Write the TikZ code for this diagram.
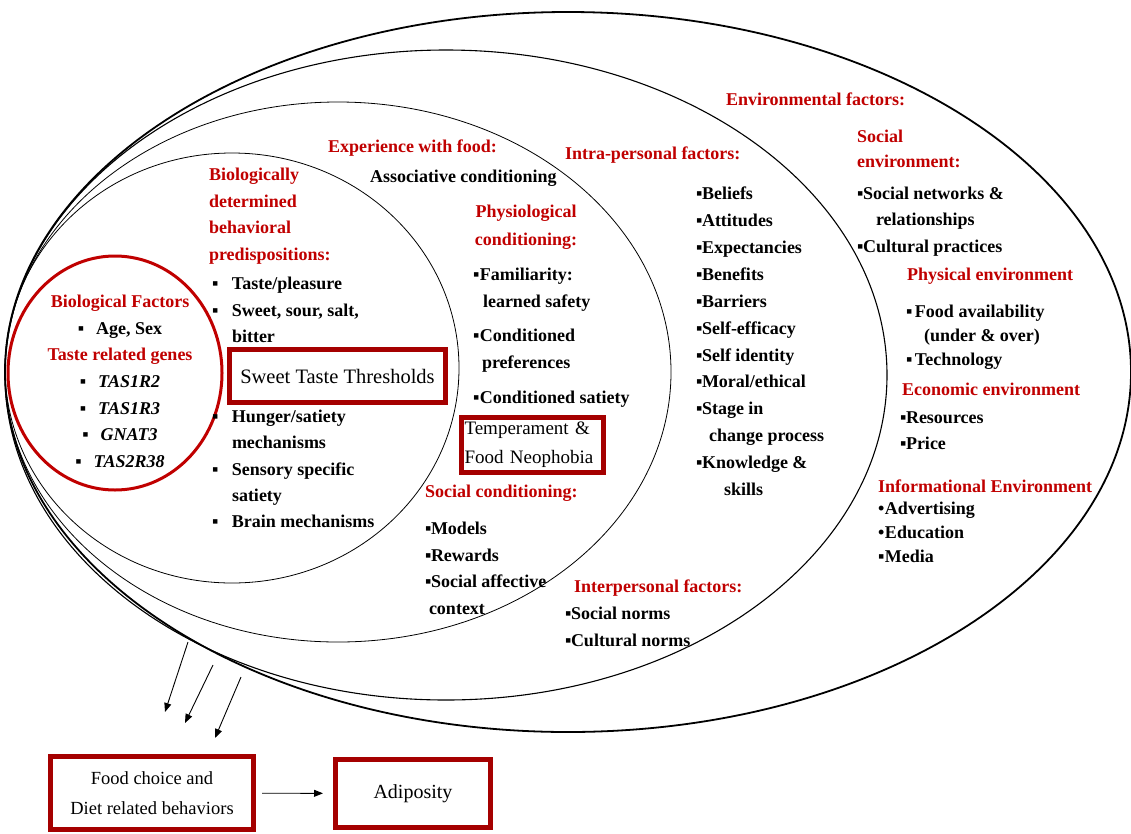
\documentclass[tikz,border=0pt]{standalone}
\usepackage{fontspec}
\setmainfont{Liberation Serif}
\usetikzlibrary{arrows.meta}
\definecolor{tred}{RGB}{192,0,0}
\definecolor{bred}{RGB}{165,0,0}
\newcommand\bsq{▪}
\newcommand\bitem[2][6pt]{\makebox[#1][l]{\bsq}#2}
\begin{document}
\begin{tikzpicture}[x=1pt,y=-1pt,
  body/.style={font=\fontsize{18}{26.7}\selectfont\bfseries, inner sep=0pt, outer sep=0pt, align=left, anchor=north west},
  redtxt/.style={body, text=tred},
  redbox/.style={draw=bred, line width=5pt, fill=white, inner sep=0pt},
  arr/.style={-{Triangle[length=9pt,width=7pt]}, line width=0.9pt}]
\useasboundingbox (0,0) rectangle (1131,833);
% nested ellipses
\draw[line width=1.8pt] (568,372) ellipse [x radius=563pt, y radius=360pt];
\draw[line width=1.1pt] (446,375) ellipse [x radius=441pt, y radius=325pt];
\draw[line width=0.8pt] (338,372) ellipse [x radius=333pt, y radius=270pt];
\draw[line width=0.8pt] (232,368) ellipse [x radius=227pt, y radius=215pt];
\draw[tred, line width=3pt] (115,373) ellipse [x radius=107pt, y radius=117pt];
% biological factors
\node[body, anchor=north, align=center] (bio) at (120,295) {\textcolor{tred}{Biological Factors}\\
\bsq\hspace{12pt}Age, Sex\\
\textcolor{tred}{Taste related genes}\\
\bsq\hspace{12pt}\textit{TAS1R2}\\
\bsq\hspace{12pt}\textit{TAS1R3}\\
\bsq\hspace{12pt}\textit{GNAT3}\\
\bsq\hspace{12pt}\textit{TAS2R38}};
% biologically determined
\node[redtxt] (bdh) at (209,168) {Biologically\\determined\\behavioral\\predispositions:};
\node[body] (bl1) at (212,277) {\bitem[20pt]{Taste/pleasure}\\\bitem[20pt]{Sweet, sour, salt,}\\\hspace*{20pt}bitter};
\node[redbox, minimum width=216pt, minimum height=53pt, font=\fontsize{20.5}{24}\selectfont] (stt) at (337.5,376) {Sweet Taste Thresholds};
\node[body, font=\fontsize{18}{26.3}\selectfont\bfseries] (bl2) at (212,410) {\bitem[20pt]{Hunger/satiety}\\\hspace*{20pt}mechanisms\\\bitem[20pt]{Sensory specific}\\\hspace*{20pt}satiety\\\bitem[20pt]{Brain mechanisms}};
% experience with food
\node[redtxt] (exp) at (328,140) {Experience with food:};
\node[body] (assoc) at (370,170) {Associative conditioning};
\node[redtxt, anchor=north, align=center, font=\fontsize{18}{28.5}\selectfont\bfseries] (phys) at (526,205) {Physiological\\conditioning:};
\node[body] (physl) at (473,268) {\bitem[7pt]{Familiarity:}\\\hspace*{10pt}learned safety\\[8pt]\bitem[7pt]{Conditioned}\\\hspace*{9pt}preferences\\[8pt]\bitem[7pt]{Conditioned satiety}};
\node[redbox, minimum width=142pt, minimum height=55pt, align=left, text width=136pt, font=\fontsize{19}{29}\selectfont] (temp) at (532.5,445) {Temperament \&\\Food Neophobia};
\node[redtxt] (socc) at (425,485) {Social conditioning:};
\node[body] (soccl) at (425,522) {\bitem{Models}\\\bitem{Rewards}\\\bitem{Social affective}\\\hspace*{4pt}context};
% intra-personal
\node[redtxt] (intra) at (565,147) {Intra-personal factors:};
\node[body, font=\fontsize{18}{26.9}\selectfont\bfseries] (intral) at (696,187) {\bitem{Beliefs}\\\bitem{Attitudes}\\\bitem{Expectancies}\\\bitem{Benefits}\\\bitem{Barriers}\\\bitem{Self-efficacy}\\\bitem{Self identity}\\\bitem{Moral/ethical}\\\bitem{Stage in}\\\hspace*{13pt}change process\\\bitem{Knowledge \&}\\\hspace*{28pt}skills};
\node[redtxt] (inter) at (574,580) {Interpersonal factors:};
\node[body] (interl) at (565,607) {\bitem{Social norms}\\\bitem{Cultural norms}};
% environmental
\node[redtxt] (env) at (726,93) {Environmental factors:};
\node[redtxt, font=\fontsize{18}{25}\selectfont\bfseries] (socenv) at (857,130) {Social\\environment:};
\node[body, font=\fontsize{18}{26.5}\selectfont\bfseries] (socenvl) at (857,187) {\bitem{Social networks \&}\\\hspace*{19pt}relationships\\\bitem{Cultural practices}};
\node[redtxt] (phyenv) at (907,268) {Physical environment};
\node[body, font=\fontsize{18}{24}\selectfont\bfseries] (phyenvl) at (906,305) {\bitem[9pt]{Food availability}\\\hspace*{18pt}(under \& over)\\\bitem[9pt]{Technology}};
\node[redtxt] (ecoenv) at (902,383) {Economic environment};
\node[body, font=\fontsize{18}{26}\selectfont\bfseries] (ecoenvl) at (900,412) {\bitem{Resources}\\\bitem{Price}};
\node[redtxt] (infenv) at (878,480) {Informational Environment};
\node[body, font=\fontsize{18}{24}\selectfont\bfseries] (infenvl) at (878,502) {\makebox[7pt][l]{•}Advertising\\\makebox[7pt][l]{•}Education\\\bitem[7pt]{Media}};
% outcome boxes
\node[redbox, minimum width=203pt, minimum height=73pt, align=center, font=\fontsize{18.5}{30}\selectfont] (food) at (152,793) {Food choice and\\Diet related behaviors};
\node[redbox, minimum width=155pt, minimum height=68pt, font=\fontsize{20}{24}\selectfont] (adip) at (413,793.5) {Adiposity};
\draw[arr, shorten <=6pt, shorten >=10pt] (food) -- (adip);
% influence arrows
\coordinate (a1s) at (188,642); \coordinate (a1e) at (165,712);
\coordinate (a2s) at (213,665); \coordinate (a2e) at (185,723);
\coordinate (a3s) at (241,677); \coordinate (a3e) at (215,738);
\draw[arr] (a1s) -- (a1e);
\draw[arr] (a2s) -- (a2e);
\draw[arr] (a3s) -- (a3e);
\end{tikzpicture}
\end{document}
